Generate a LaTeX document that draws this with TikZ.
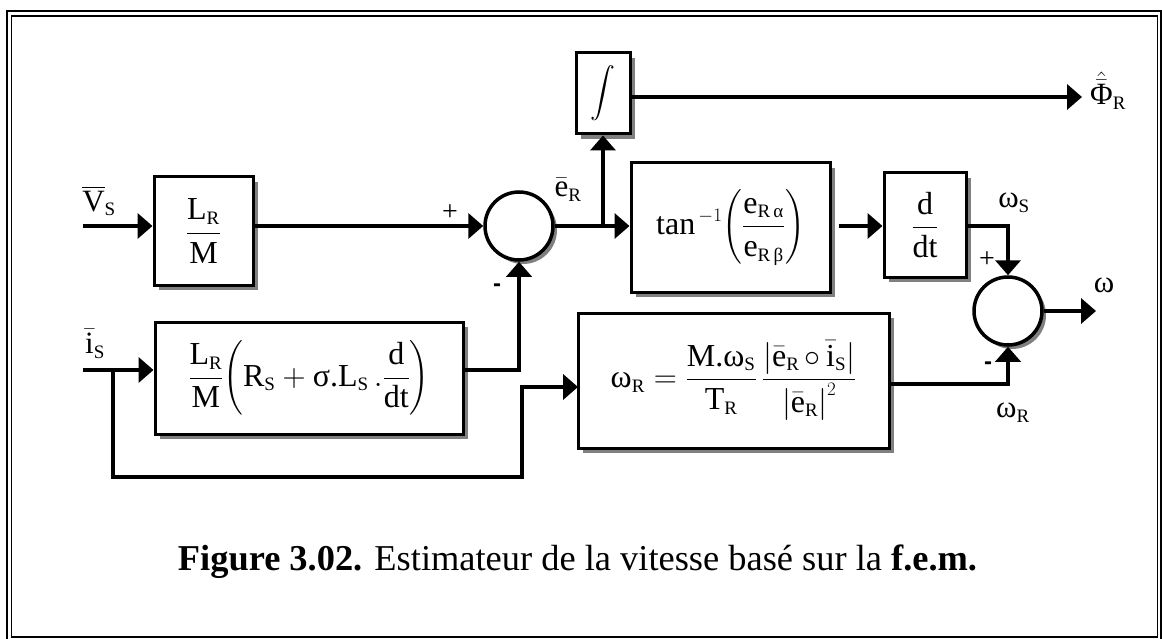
\documentclass[tikz,border=0pt]{standalone}
\usepackage{fix-cm}
\usepackage{amsmath}
\usepackage{graphicx}
\usepackage{fontspec}
\setmainfont{Liberation Serif}
\newfontfamily\sansf{Liberation Sans}
\usetikzlibrary{arrows.meta,shadows}
\DeclareMathSizes{32}{32}{19}{13}
\DeclareMathSizes{31}{31}{19}{13}
\newcommand\tx[1]{\text{#1}}
\definecolor{shadowgray}{RGB}{128,128,128}
\tikzset{
  blk/.style={draw, line width=3pt, fill=white, inner sep=0pt,
    general shadow={fill=shadowgray, shadow xshift=5pt, shadow yshift=-5pt},
    font=\fontsize{32}{34}\selectfont},
  sumc/.style={circle, draw, line width=3.5pt, fill=white, inner sep=0pt, minimum size=68pt,
    general shadow={fill=shadowgray, shadow xshift=4pt, shadow yshift=-4pt}},
  conn/.style={line width=4pt},
  arr/.style={conn, -{Triangle[length=15pt,width=25pt]}},
  lbl/.style={inner sep=0pt, font=\fontsize{31}{33}\selectfont},
  sgn/.style={inner sep=0pt, font=\fontsize{28}{30}\selectfont},
  msgn/.style={inner sep=0pt, font=\sansf\bfseries\fontsize{24}{26}\selectfont},
}
\begin{document}
\begin{tikzpicture}[x=1pt,y=-1pt]
\useasboundingbox (0,0) rectangle (1162,639);
% frame
\draw[line width=2.5pt] (7,11) rectangle (1161.5,641);
\draw[line width=1.8pt] (11.5,16) rectangle (1157.5,637);

% blocks
\node[blk, minimum width=99pt, minimum height=108pt] (b1) at (203.5,231)
  {$\displaystyle\frac{\tx{L}_\tx{R}}{\tx{M}}$};
\node[blk, minimum width=54pt, minimum height=81pt] (integ) at (603,93.5)
  {$\displaystyle\int$};
\node[blk, minimum width=199pt, minimum height=129pt] (tan) at (730.5,227.5)
  {$\displaystyle\tx{tan}^{\,-1}\!\left(\frac{\tx{e}_\tx{R\,α}}{\tx{e}_\tx{R\,β}}\right)$};
\node[blk, minimum width=82pt, minimum height=104pt] (dd) at (925,225)
  {$\displaystyle\frac{\tx{d}}{\tx{dt}}$};
\node[blk, minimum width=308pt, minimum height=112pt] (b2) at (309,378)
  {$\displaystyle\frac{\tx{L}_\tx{R}}{\tx{M}}\!\left(\tx{R}_\tx{S}+\tx{σ.L}_\tx{S}\,.\frac{\tx{d}}{\tx{dt}}\right)$};
\node[blk, minimum width=311pt, minimum height=135pt] (wr) at (733.5,380.5)
  {$\displaystyle\tx{ω}_\tx{R}=\frac{\tx{M.ω}_\tx{S}}{\tx{T}_\tx{R}}\,\frac{\left|\bar{\tx{e}}_\tx{R}\,{\circ}\,\bar{\tx{i}}_\tx{S}\right|}{\left|\bar{\tx{e}}_\tx{R}\right|^{2}}$};

% summing junctions
\node[sumc] (s1) at (519,226) {};
\node[sumc] (s2) at (1008,311) {};

% coordinates
\coordinate (vin) at (83,226);
\coordinate (iin) at (83,370);
\coordinate (br1) at (603,226);
\coordinate (br2) at (113,370);
\coordinate (lp) at (522,477);
\coordinate (wrin) at (578,387);
\coordinate (wrout) at (889,384);
\coordinate (phiend) at (1082,97);
\coordinate (wend) at (1096,313);

% connectors
\draw[arr] (vin) -- (vin -| b1.west);
\draw[arr] (b1.east |- vin) -- (s1.west);
\draw[arr] (s1.east) -- (tan.west |- s1.east);
\draw[arr] (br1) -- (integ.south);
\draw[arr] (integ.east |- phiend) -- (phiend);
\draw[arr, shorten <=7pt] (tan.east |- s1.east) -- (dd.west |- s1.east);
\draw[arr] (dd.east |- s1.east) -- (s2.north |- s1.east) -- (s2.north);
\draw[arr] (iin) -- (iin -| b2.west);
\draw[arr] (br2) -- (br2 |- lp) -- (lp) -- (lp |- wrin) -- (wrin);
\draw[arr] (b2.east |- iin) -- (s1.south |- iin) -- (s1.south);
\draw[arr] (wrout) -- (s2.south |- wrout) -- (s2.south);
\draw[arr] (s2.east) -- (s2.east -| wend);

% labels
\node[lbl] (lvs) at (99,201) {$\overline{\tx{V}}_\tx{S}$};
\node[lbl] (lis) at (95,344) {$\bar{\tx{i}}_\tx{S}$};
\node[lbl] (ler) at (568,190) {$\bar{\tx{e}}_\tx{R}$};
\node[lbl] (lphi) at (1108,91) {$\hat{\bar{\tx{Φ}}}_\tx{R}$};
\node[lbl] (lws) at (1014,203) {$\tx{ω}_\tx{S}$};
\node[lbl] (lw) at (1104,285) {ω};
\node[lbl] (lwr) at (1013,413) {$\tx{ω}_\tx{R}$};
\node[sgn] (p1) at (450,213) {+};
\node[msgn] (m1) at (497,288) {-};
\node[sgn] (p2) at (987,260) {+};
\node[msgn] (m2) at (988,366) {-};

% caption
\node[inner sep=0pt, anchor=base] (cap) at (577.5,570)
  {\resizebox{799pt}{!}{\textbf{Figure 3.02.} Estimateur de la vitesse basé sur la \textbf{f.e.m.}}};
\end{tikzpicture}
\end{document}
